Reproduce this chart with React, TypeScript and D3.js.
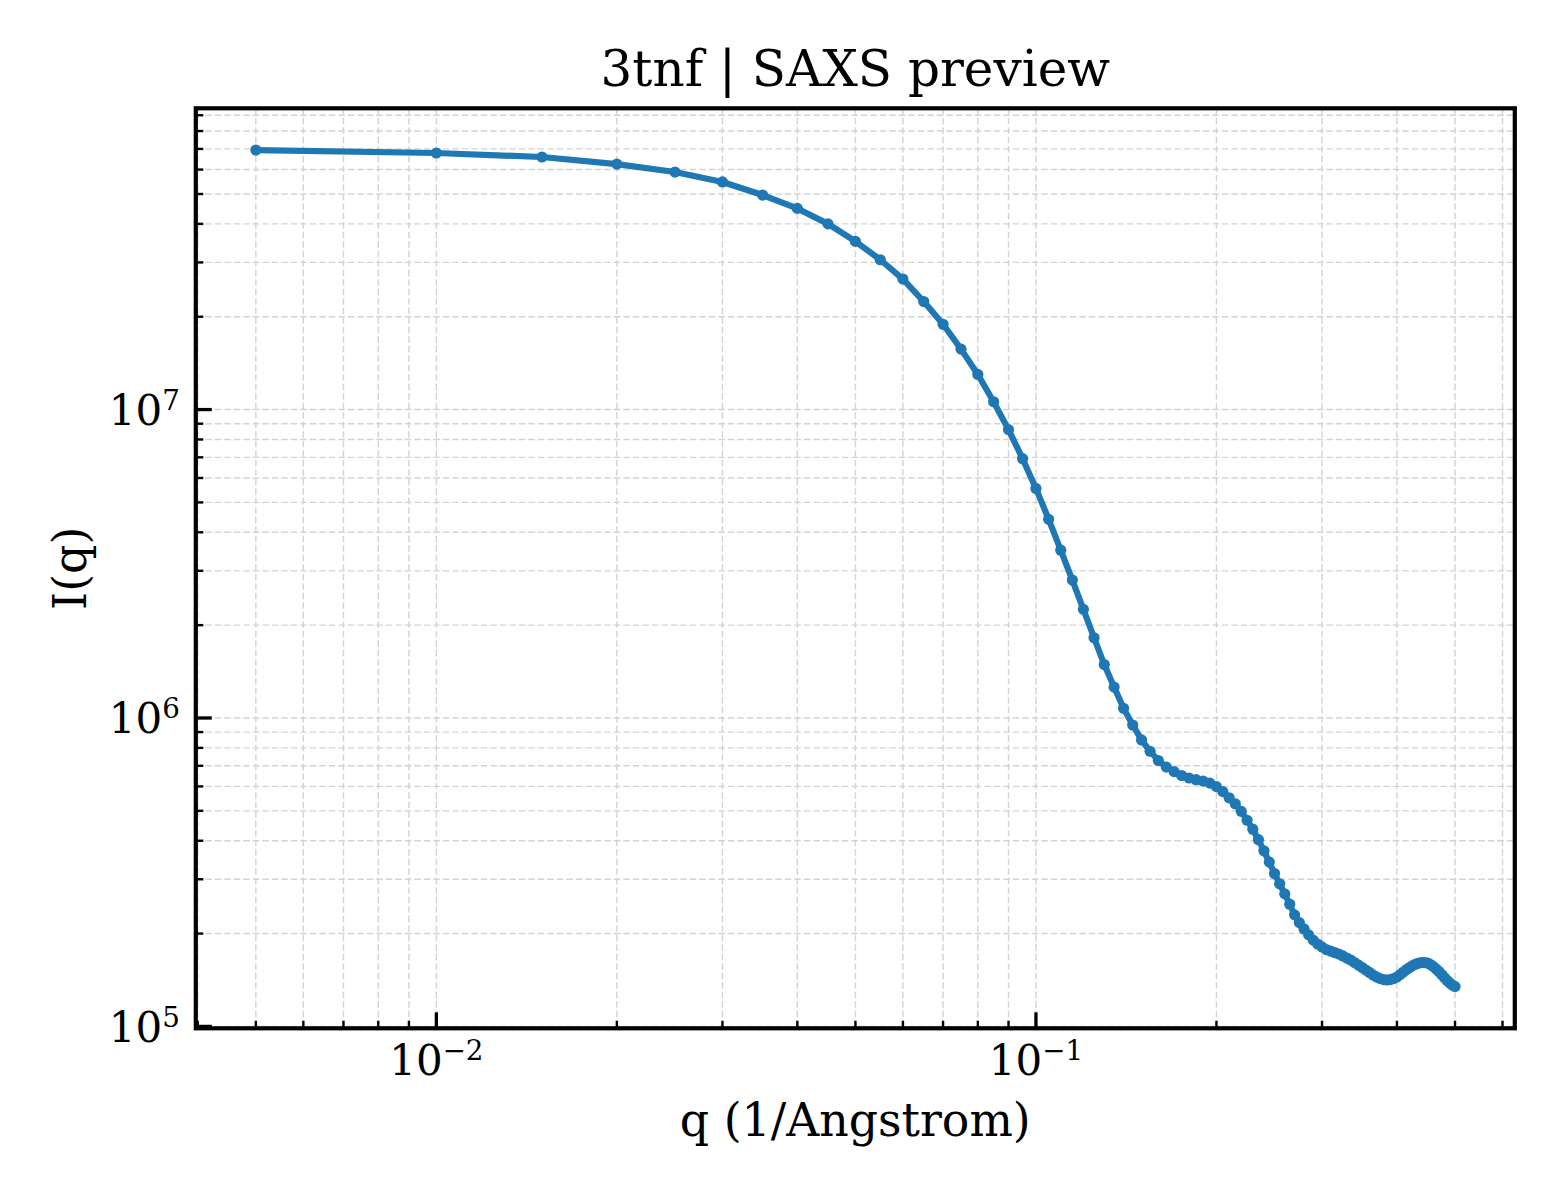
import React, { useEffect, useRef } from 'react';
import * as d3 from 'd3';

// scattering vector q (1/Angstrom)
const qValues = [
  0.005, 0.01, 0.015, 0.02, 0.025, 0.03, 0.035, 0.04, 0.045, 0.05,
  0.055, 0.06, 0.065, 0.07, 0.075, 0.08, 0.085, 0.09, 0.095, 0.1,
  0.105, 0.11, 0.115, 0.12, 0.125, 0.13, 0.135, 0.14, 0.145, 0.15,
  0.155, 0.16, 0.165, 0.17, 0.175, 0.18, 0.185, 0.19, 0.195, 0.2,
  0.205, 0.21, 0.215, 0.22, 0.225, 0.23, 0.235, 0.24, 0.245, 0.25,
  0.255, 0.26, 0.265, 0.27, 0.275, 0.28, 0.285, 0.29, 0.295, 0.3,
  0.305, 0.31, 0.315, 0.32, 0.325, 0.33, 0.335, 0.34, 0.345, 0.35,
  0.355, 0.36, 0.365, 0.37, 0.375, 0.38, 0.385, 0.39, 0.395, 0.4,
  0.405, 0.41, 0.415, 0.42, 0.425, 0.43, 0.435, 0.44, 0.445, 0.45,
  0.455, 0.46, 0.465, 0.47, 0.475, 0.48, 0.485, 0.49, 0.495, 0.5,
];

// I(q)
const intensity = [
  6.94e7, 6.79e7, 6.59e7, 6.25e7, 5.89e7, 5.47e7, 4.96e7, 4.49e7, 4.0e7, 3.51e7,
  3.06e7, 2.65e7, 2.24e7, 1.89e7, 1.57e7, 1.3e7, 1.06e7, 8.61e6, 6.93e6, 5.55e6,
  4.41e6, 3.5e6, 2.8e6, 2.25e6, 1.82e6, 1.49e6, 1.26e6, 1.075e6, 9.49e5, 8.49e5,
  7.8e5, 7.28e5, 6.93e5, 6.7e5, 6.51e5, 6.39e5, 6.31e5, 6.24e5, 6.15e5, 5.99e5,
  5.77e5, 5.51e5, 5.27e5, 4.98e5, 4.66e5, 4.36e5, 4.03e5, 3.71e5, 3.41e5, 3.13e5,
  2.9e5, 2.69e5, 2.49e5, 2.3e5, 2.17e5, 2.07e5, 1.98e5, 1.905e5, 1.85e5, 1.81e5,
  1.775e5, 1.755e5, 1.736e5, 1.717e5, 1.692e5, 1.666e5, 1.641e5, 1.611e5, 1.581e5, 1.552e5,
  1.523e5, 1.496e5, 1.468e5, 1.446e5, 1.43e5, 1.419e5, 1.414e5, 1.419e5, 1.43e5, 1.446e5,
  1.473e5, 1.501e5, 1.529e5, 1.552e5, 1.576e5, 1.593e5, 1.605e5, 1.611e5, 1.611e5, 1.605e5,
  1.587e5, 1.564e5, 1.535e5, 1.507e5, 1.473e5, 1.441e5, 1.409e5, 1.383e5, 1.362e5, 1.347e5,
];

const xMajorTicks = [0.01, 0.1];
const xTickExponents = ['\u22122', '\u22121'];
const yMajorTicks = [1e5, 1e6, 1e7];
const yTickExponents = ['5', '6', '7'];

const title = '3tnf | SAXS preview';
const xLabel = 'q (1/Angstrom)';
const yLabel = 'I(q)';

const WIDTH = 1560;
const HEIGHT = 1200;
const margin = { top: 108.3, right: 45.2, bottom: 171.7, left: 195.8 };
const FONT = '"DejaVu Serif", "Liberation Serif", serif';
const BLUE = '#1f77b4';

// 1..9 x 10^k inside the domain
function logTicks(domain: [number, number]) {
  const out: number[] = [];
  const lo = Math.floor(Math.log10(domain[0]));
  const hi = Math.ceil(Math.log10(domain[1]));
  for (let e = lo; e <= hi; e++) {
    for (let k = 1; k <= 9; k++) {
      const v = k * Math.pow(10, e);
      if (v >= domain[0] && v <= domain[1]) out.push(v);
    }
  }
  return out;
}

const App: React.FC = () => {
  const svgRef = useRef<SVGSVGElement>(null);

  useEffect(() => {
    if (!svgRef.current) return;
    const innerW = WIDTH - margin.left - margin.right;
    const innerH = HEIGHT - margin.top - margin.bottom;

    const svg = d3.select(svgRef.current);
    svg.selectAll('*').remove();

    const xDomain: [number, number] = [0.00397, 0.629];
    const yDomain: [number, number] = [9.86e4, 9.48e7];
    const x = d3.scaleLog().domain(xDomain).range([0, innerW]);
    const y = d3.scaleLog().domain(yDomain).range([innerH, 0]);

    const g = svg.append('g').attr('transform', `translate(${margin.left},${margin.top})`);

    // grid, major + minor, dashed
    const grid = g.append('g').attr('stroke', '#d3d3d3').attr('stroke-width', 1.4).attr('stroke-dasharray', '6.5,3');
    grid
      .selectAll('line.gx')
      .data(logTicks(xDomain))
      .join('line')
      .attr('class', 'gx')
      .attr('x1', (d) => x(d))
      .attr('x2', (d) => x(d))
      .attr('y1', 0)
      .attr('y2', innerH);
    grid
      .selectAll('line.gy')
      .data(logTicks(yDomain))
      .join('line')
      .attr('class', 'gy')
      .attr('x1', 0)
      .attr('x2', innerW)
      .attr('y1', (d) => y(d))
      .attr('y2', (d) => y(d));

    const pts = qValues.map((q, i) => ({ q, I: intensity[i] }));

    const line = d3
      .line<{ q: number; I: number }>()
      .x((d) => x(d.q))
      .y((d) => y(d.I));

    g.append('path')
      .datum(pts)
      .attr('d', line)
      .attr('fill', 'none')
      .attr('stroke', BLUE)
      .attr('stroke-width', 6.2)
      .attr('stroke-linejoin', 'round')
      .attr('stroke-linecap', 'round');

    g.append('g')
      .selectAll('circle')
      .data(pts)
      .join('circle')
      .attr('cx', (d) => x(d.q))
      .attr('cy', (d) => y(d.I))
      .attr('r', 5.6)
      .attr('fill', BLUE);

    // spines
    g.append('rect')
      .attr('x', 0)
      .attr('y', 0)
      .attr('width', innerW)
      .attr('height', innerH)
      .attr('fill', 'none')
      .attr('stroke', '#000')
      .attr('stroke-width', 4.2);

    // inward ticks, left and bottom only
    const isMajor = (v: number) => Math.abs(Math.log10(v) - Math.round(Math.log10(v))) < 1e-9;
    const ticks = g.append('g').attr('stroke', '#000');
    ticks
      .selectAll('line.tx')
      .data(logTicks(xDomain))
      .join('line')
      .attr('class', 'tx')
      .attr('x1', (d) => x(d))
      .attr('x2', (d) => x(d))
      .attr('y1', innerH)
      .attr('y2', (d) => innerH - (isMajor(d) ? 16 : 7.5))
      .attr('stroke-width', (d) => (isMajor(d) ? 3.3 : 2.4));
    ticks
      .selectAll('line.ty')
      .data(logTicks(yDomain))
      .join('line')
      .attr('class', 'ty')
      .attr('x1', 0)
      .attr('x2', (d) => (isMajor(d) ? 16 : 7.5))
      .attr('y1', (d) => y(d))
      .attr('y2', (d) => y(d))
      .attr('stroke-width', (d) => (isMajor(d) ? 3.3 : 2.4));

    // tick labels as 10^n
    const tickFont = 42;
    xMajorTicks.forEach((v, i) => {
      const t = g
        .append('text')
        .attr('x', x(v))
        .attr('y', innerH + 47)
        .attr('text-anchor', 'middle')
        .attr('font-family', FONT)
        .attr('font-size', tickFont)
        .attr('fill', '#000');
      t.append('tspan').text('10');
      t.append('tspan')
        .attr('font-size', tickFont * 0.66)
        .attr('dy', -15)
        .text(xTickExponents[i]);
    });
    yMajorTicks.forEach((v, i) => {
      const t = g
        .append('text')
        .attr('x', -16)
        .attr('y', y(v) + 15.5)
        .attr('text-anchor', 'end')
        .attr('font-family', FONT)
        .attr('font-size', tickFont)
        .attr('fill', '#000');
      t.append('tspan').text('10');
      t.append('tspan')
        .attr('font-size', tickFont * 0.66)
        .attr('dy', -15)
        .text(yTickExponents[i]);
    });

    // title and axis labels
    svg
      .append('text')
      .attr('x', margin.left + innerW / 2)
      .attr('y', 86)
      .attr('text-anchor', 'middle')
      .attr('font-family', FONT)
      .attr('font-size', 50)
      .attr('fill', '#000')
      .text(title);

    svg
      .append('text')
      .attr('x', margin.left + innerW / 2)
      .attr('y', 1136)
      .attr('text-anchor', 'middle')
      .attr('font-family', FONT)
      .attr('font-size', 45.8)
      .attr('fill', '#000')
      .text(xLabel);

    svg
      .append('text')
      .attr('transform', `translate(86,${margin.top + innerH / 2}) rotate(-90)`)
      .attr('text-anchor', 'middle')
      .attr('font-family', FONT)
      .attr('font-size', 45.8)
      .attr('fill', '#000')
      .text(yLabel);
  }, []);

  return (
    <svg
      ref={svgRef}
      width={WIDTH}
      height={HEIGHT}
      style={{ position: 'absolute', left: 0, top: 0, background: '#fff' }}
      role="img"
      aria-label="SAXS preview of 3tnf"
    />
  );
};

export default App;
